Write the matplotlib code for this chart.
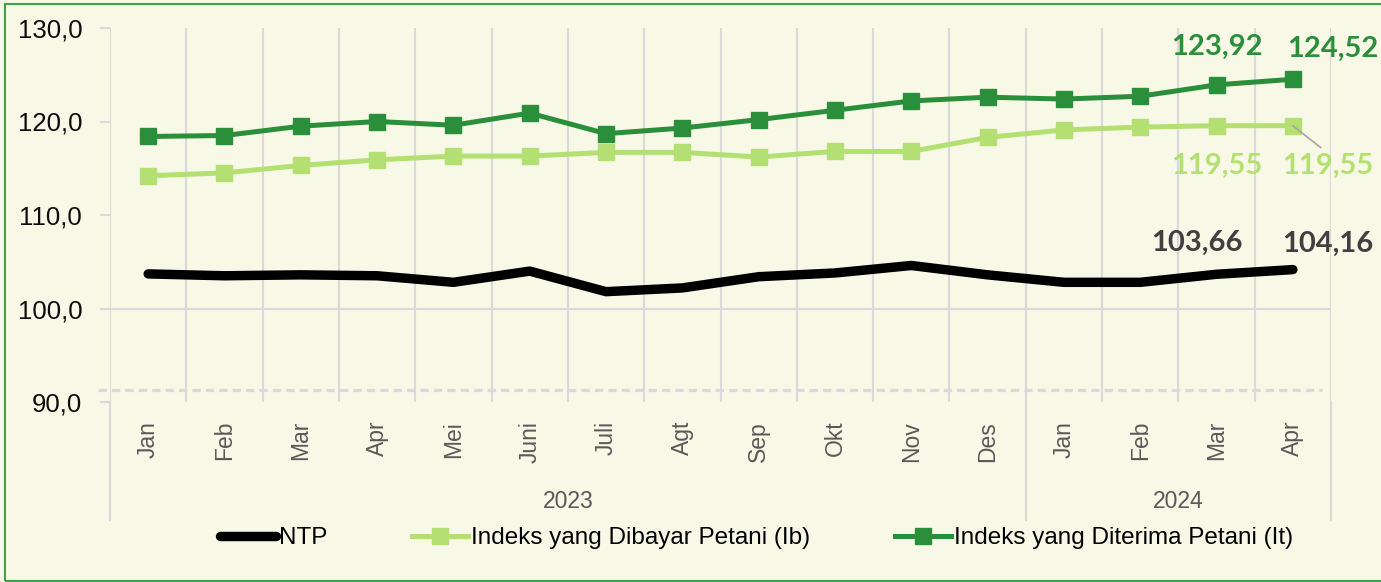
import matplotlib.pyplot as plt
from matplotlib.patches import Rectangle
import numpy as np

months = ["Jan", "Feb", "Mar", "Apr", "Mei", "Juni", "Juli", "Agt", "Sep", "Okt",
          "Nov", "Des", "Jan", "Feb", "Mar", "Apr"]
years = ["2023", "2024"]
year_counts = [12, 4]
ntp = [103.7, 103.5, 103.6, 103.5, 102.8, 104.0, 101.8, 102.2, 103.4, 103.8,
       104.6, 103.6, 102.8, 102.8, 103.66, 104.16]
ib = [114.2, 114.5, 115.3, 115.9, 116.3, 116.3, 116.7, 116.7, 116.2, 116.8,
      116.8, 118.3, 119.1, 119.4, 119.55, 119.55]
it = [118.4, 118.5, 119.5, 120.0, 119.6, 120.9, 118.7, 119.3, 120.2, 121.2,
      122.2, 122.6, 122.4, 122.7, 123.92, 124.52]
yticks = [90, 100, 110, 120, 130]
ytick_labels = ["90,0", "100,0", "110,0", "120,0", "130,0"]

bg = "#F7F9E6"
grid_c = "#D9D9D9"
dark_green = "#2B8E3B"
light_green = "#B3DF73"

plt.rcParams["font.family"] = ["Liberation Sans", "DejaVu Sans"]

fig = plt.figure(figsize=(13.81, 5.82), dpi=100, facecolor=bg)
ax = fig.add_axes([110 / 1381, 180 / 582, 1221 / 1381, 374 / 582])
ax.set_facecolor(bg)
x = np.arange(len(months))
ax.set_xlim(-0.5, len(months) - 0.5)
ax.set_ylim(90, 130)
for s in ax.spines.values():
    s.set_visible(False)

# grid: vertical lines between categories, one horizontal at 100
for b in np.arange(-0.5, len(months), 1.0):
    ax.plot([b, b], [0, 1], transform=ax.get_xaxis_transform(), color=grid_c, lw=1.5, zorder=1)
ax.axhline(100, color=grid_c, lw=1.5, zorder=1)
ax.plot([-0.0098, 0.9926], [0.032, 0.032], transform=ax.transAxes, color=grid_c,
        lw=2.3, dashes=(2.6, 1.6), clip_on=False, zorder=1)

# year group separators and labels
edges = np.concatenate([[0], np.cumsum(year_counts)]) - 0.5
for e in edges:
    ax.plot([e, e], [-0.316, 0], transform=ax.get_xaxis_transform(), color=grid_c,
            lw=1.5, clip_on=False)
for yr, a, b in zip(years, edges[:-1], edges[1:]):
    ax.text((a + b) / 2, -0.267, yr, transform=ax.get_xaxis_transform(), ha="center",
            va="center", fontsize=16.5, color="#595959")

ax.plot(x, ntp, color="black", lw=6.8, solid_capstyle="round", label="NTP", zorder=3)
ax.plot(x, ib, color=light_green, lw=3.6, marker="s", ms=12, label="Indeks yang Dibayar Petani (Ib)", zorder=3)
ax.plot(x, it, color=dark_green, lw=3.6, marker="s", ms=12, label="Indeks yang Diterima Petani (It)", zorder=3)

ax.set_xticks(x)
ax.set_xticklabels(months, rotation=90, fontsize=16.5, color="#595959")
ax.tick_params(axis="x", length=0, pad=13.5)
ax.set_yticks(yticks)
ax.set_yticklabels(ytick_labels, fontsize=18.5, color="#0D0D0D")
ax.tick_params(axis="y", length=7, width=1.5, color=grid_c, pad=13)

# data labels on the last two points
lab = dict(fontsize=21, fontweight="bold", family=["Lato", "DejaVu Sans"],
           ha="center", va="center", textcoords="offset points")
fmt = lambda v: f"{v:.2f}".replace(".", ",")
ax.annotate(fmt(it[-2]), (x[-2], it[-2]), xytext=(0, 27), color=dark_green, **lab)
ax.annotate(fmt(it[-1]), (x[-1], it[-1]), xytext=(28.5, 22), color=dark_green, **lab)
ax.annotate(fmt(ib[-2]), (x[-2], ib[-2]), xytext=(0, -29), color=light_green, **lab)
ax.annotate(fmt(ib[-1]), (x[-1], ib[-1]), xytext=(25, -29), color=light_green,
            arrowprops=dict(arrowstyle="-", color="#A6A6A6", lw=1.2, relpos=(0.5, 1),
                            shrinkA=3, shrinkB=0), **lab)
ax.annotate(fmt(ntp[-2]), (x[-2], ntp[-2]), xytext=(-14, 22.5), color="#404040", **lab)
ax.annotate(fmt(ntp[-1]), (x[-1], ntp[-1]), xytext=(25, 18.5), color="#404040", **lab)

fig.legend(loc="center", bbox_to_anchor=(0.548, 0.0756), ncol=3, frameon=False,
           fontsize=17.5, handlelength=2.3, handletextpad=0.12, columnspacing=3.5)

fig.patches.append(Rectangle((5 / 1381, 1.5 / 582), 1.1, 1 - 5.5 / 582, transform=fig.transFigure,
                             fill=False, edgecolor="#3FA04A", lw=1.5))

fig.savefig("out.png", dpi=100, facecolor=bg)
